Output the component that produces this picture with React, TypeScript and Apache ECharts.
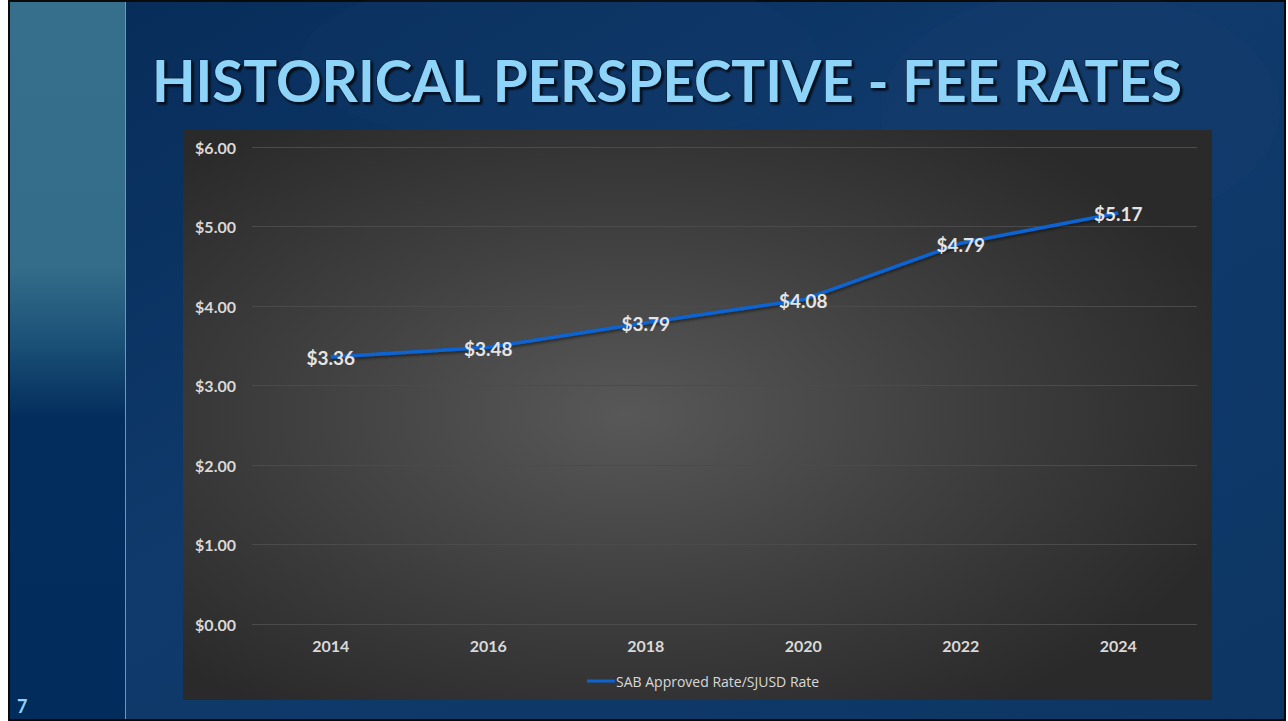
import React, { useEffect, useRef } from "react";
import * as echarts from "echarts";

const years = ["2014", "2016", "2018", "2020", "2022", "2024"];
const rates = [3.36, 3.48, 3.79, 4.08, 4.79, 5.17];
const seriesName = "SAB Approved Rate/SJUSD Rate";
const titleText = "HISTORICAL PERSPECTIVE - FEE RATES";
const pageNumber = "7";

export default function App() {
  const ref = useRef<HTMLDivElement>(null);
  useEffect(() => {
    if (!ref.current) return;
    const chart = echarts.init(ref.current, undefined, { renderer: "svg" });
    const W = 1288;
    const H = 721;
    chart.setOption({
      animation: false,
      backgroundColor: "#ffffff",
      graphic: [
        {
          type: "rect",
          z: -10,
          silent: true,
          shape: { x: 9, y: 1, width: 1276, height: 719 },
          style: {
            fill: new echarts.graphic.LinearGradient(0, 0, 1, 1, [
              { offset: 0, color: "#062b58" },
              { offset: 0.45, color: "#0f3a6b" },
              { offset: 1, color: "#0d3664" },
            ]),
            stroke: "#0a0a0a",
            lineWidth: 2,
          },
        },
        {
          type: "ellipse",
          z: -9,
          silent: true,
          shape: { cx: 560, cy: 60, rx: 260, ry: 90 },
          style: { fill: "rgba(40,80,130,0.08)" },
        },
        {
          type: "ellipse",
          z: -9,
          silent: true,
          shape: { cx: 1080, cy: 110, rx: 200, ry: 120 },
          style: { fill: "rgba(60,90,130,0.06)" },
        },
        {
          type: "rect",
          z: -8,
          silent: true,
          shape: { x: 10, y: 2, width: 115, height: 717 },
          style: {
            fill: new echarts.graphic.LinearGradient(0, 0, 0, 1, [
              { offset: 0, color: "#356f8b" },
              { offset: 0.37, color: "#336d8a" },
              { offset: 0.47, color: "#1c5278" },
              { offset: 0.58, color: "#032d5d" },
              { offset: 1, color: "#012c5c" },
            ]),
          },
        },
        {
          type: "line",
          z: -7,
          silent: true,
          shape: { x1: 125.5, y1: 2, x2: 125.5, y2: 719 },
          style: { stroke: "#6f96b6", lineWidth: 1 },
        },
        {
          type: "text",
          z: 5,
          silent: true,
          x: 667,
          y: 80,
          style: {
            text: titleText,
            fill: "#8ed4f8",
            font: "bold 56.5px Lato",
            align: "center",
            verticalAlign: "middle",
            stroke: "#0b1e33",
            lineWidth: 1.2,
            textShadowColor: "rgba(0,0,0,0.85)",
            textShadowBlur: 2,
            textShadowOffsetX: 2,
            textShadowOffsetY: 2,
          },
        },
        {
          type: "rect",
          z: -5,
          silent: true,
          shape: { x: 183, y: 130, width: 1029, height: 570 },
          style: {
            fill: new echarts.graphic.RadialGradient(0.43, 0.5, 0.62, [
              { offset: 0, color: "#585858" },
              { offset: 0.55, color: "#3e3e3e" },
              { offset: 1, color: "#2a2a2a" },
            ]),
          },
        },
        {
          type: "text",
          z: 5,
          silent: true,
          x: 17,
          y: 706,
          style: {
            text: pageNumber,
            fill: "#8ed4f8",
            font: "bold 18px Lato",
            align: "left",
            verticalAlign: "middle",
          },
        },
      ],
      grid: { left: 252, right: W - 1197, top: 147, bottom: H - 624, containLabel: false },
      legend: {
        data: [seriesName],
        left: 582,
        top: 669,
        icon: "rect",
        itemWidth: 28,
        itemHeight: 3,
        itemGap: 10,
        itemStyle: { color: "#0a64d2", opacity: 1 },
        textStyle: { color: "#d9d9d9", fontSize: 14, fontFamily: "Open Sans", padding: [0, 0, 0, -4] },
      },
      xAxis: {
        type: "category",
        data: years,
        boundaryGap: true,
        axisLine: { show: false },
        axisTick: { show: false },
        axisLabel: {
          color: "#d9d9d9",
          fontFamily: "Lato",
          fontWeight: "bold",
          fontSize: 16,
          margin: 13,
        },
      },
      yAxis: {
        type: "value",
        min: 0,
        max: 6,
        interval: 1,
        axisLine: { show: false },
        axisTick: { show: false },
        splitLine: { lineStyle: { color: "#4b4b4b", width: 1 } },
        axisLabel: {
          color: "#d9d9d9",
          fontFamily: "Lato",
          fontWeight: "bold",
          fontSize: 16,
          margin: 16,
          formatter: (v: number) => "$" + v.toFixed(2),
        },
      },
      series: [
        {
          name: seriesName,
          type: "line",
          data: rates,
          showSymbol: true,
          symbol: "circle",
          symbolSize: 0,
          color: "#0a64d2",
          itemStyle: { color: "#0a64d2" },
          lineStyle: {
            color: "#0a64d2",
            width: 3.5,
            shadowColor: "rgba(0,0,0,0.5)",
            shadowBlur: 3,
            shadowOffsetY: 2,
          },
          label: {
            show: true,
            position: "inside",
            color: "#e4e4e4",
            fontFamily: "Lato",
            fontWeight: "bold",
            fontSize: 19,
            offset: [0, 1],
            formatter: (p: any) => "$" + Number(p.value).toFixed(2),
          },
        },
      ],
    });
    return () => chart.dispose();
  }, []);
  return (
    <div
      ref={ref}
      style={{ position: "absolute", left: 0, top: 0, width: 1288, height: 721 }}
    />
  );
}
